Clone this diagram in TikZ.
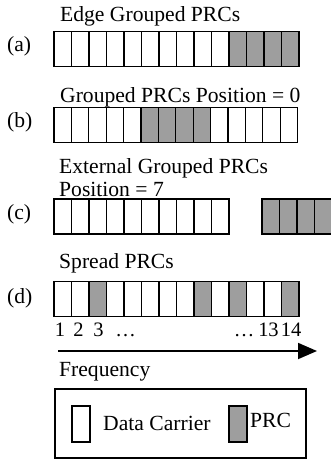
\documentclass[tikz,border=0pt]{standalone}
\usepackage{fontspec}
\setmainfont{Liberation Serif}
\usetikzlibrary{arrows.meta}
\definecolor{prcgray}{RGB}{158,158,158}
\begin{document}
\begin{tikzpicture}[x=1pt,y=-1pt,
  cell/.style={draw=black,line width=1.3pt,fill=white,minimum width=17.5pt,minimum height=35pt,inner sep=0pt,outer sep=0pt},
  prc/.style={cell,fill=prcgray},
  lbl/.style={anchor=base west,inner sep=0pt,font=\fontsize{21.6}{24}\selectfont},
  num/.style={anchor=base,inner sep=0pt,font=\fontsize{20.5}{24}\selectfont}]
\useasboundingbox (0,0) rectangle (331,459);
% (a)
\node[lbl] (ta) at (60,21) {Edge Grouped PRCs};
\node[lbl] (la) at (7,51) {(a)};
\foreach \i in {1,...,10} \node[cell] (a\i) at ({54+(\i-0.5)*17.5},49) {};
\foreach \i in {11,...,14} \node[prc] (a\i) at ({54+(\i-0.5)*17.5},49) {};
% (b)
\node[lbl] (tb) at (60,102) {Grouped PRCs Position = 0};
\node[lbl] (lb) at (7,127) {(b)};
\foreach \i in {1,...,5,10,11,12,13,14} \node[cell] (b\i) at ({54+(\i-0.5)*17.4},125) {};
\foreach \i in {6,...,9} \node[prc] (b\i) at ({54+(\i-0.5)*17.4},125) {};
% (c)
\node[lbl] (tc1) at (59,173) {External Grouped PRCs};
\node[lbl] (tc2) at (59,196) {Position = 7};
\node[lbl] (lc) at (7,219) {(c)};
\foreach \i in {1,...,10} \node[cell] (c\i) at ({54+(\i-0.5)*17.5},216.5) {};
\foreach \i in {1,...,4} \node[prc] (cp\i) at ({262+(\i-0.5)*17.5},216.5) {};
% (d)
\node[lbl] (td) at (59,268) {Spread PRCs};
\node[lbl] (ld) at (7,303) {(d)};
\foreach \i in {1,2,4,5,6,7,8,10,12,13} \node[cell] (d\i) at ({54+(\i-0.5)*17.5},299) {};
\foreach \i in {3,9,11,14} \node[prc] (d\i) at ({54+(\i-0.5)*17.5},299) {};
\node[num] (n1) at (60,336) {1};
\node[num] (n2) at (78.5,336) {2};
\node[num] (n3) at (98.5,336) {3};
\node[num] (dots1) at (125.5,336) {\ldots};
\node[num] (dots2) at (244,336) {\ldots};
\node[num] (n13) at (268.5,336) {13};
\node[num] (n14) at (291,336) {14};
% frequency axis
\coordinate (fs) at (58,351);
\coordinate (fe) at (317,351);
\draw[line width=1.8pt,-{Triangle[length=19pt,width=16pt]}] (fs) -- (fe);
\node[lbl] (freq) at (59,376) {Frequency};
% legend
\node[draw=black,line width=1.3pt,minimum width=251pt,minimum height=69pt,inner sep=0pt] (legend) at (180.5,423.5) {};
\node[cell,minimum width=18pt,minimum height=36pt] (kd) at (81,424) {};
\node[lbl] (kdt) at (103,430) {Data Carrier};
\node[prc,minimum width=18pt,minimum height=36pt] (kp) at (238,424) {};
\node[lbl] (kpt) at (250,427) {PRC};
\end{tikzpicture}
\end{document}
